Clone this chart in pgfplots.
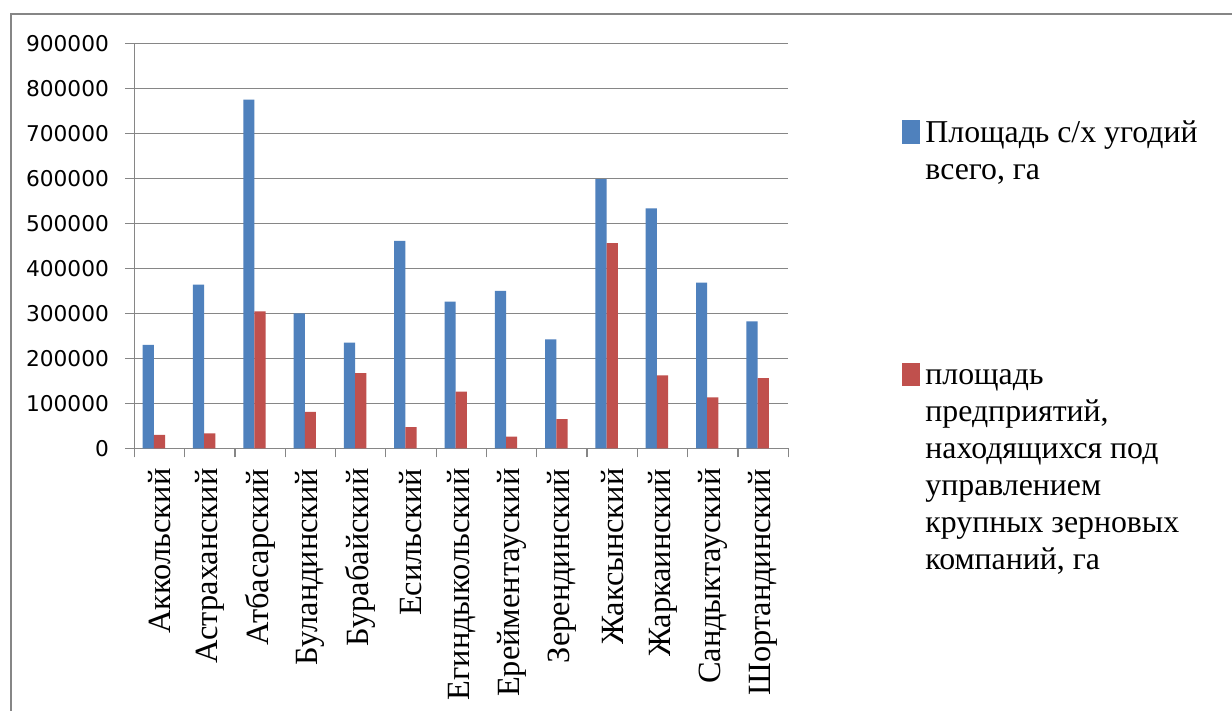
\documentclass[border=0pt]{standalone}
\usepackage{pgfplots}
\pgfplotsset{compat=1.18}
\usepackage{fontspec}
\setmainfont{Liberation Serif}
\newfontfamily\dejavu{DejaVu Sans}
\definecolor{xlblue}{RGB}{79,129,189}
\definecolor{xlred}{RGB}{192,80,77}
\definecolor{xlgrid}{RGB}{134,134,134}
\begin{document}
\begin{tikzpicture}
\path[use as bounding box] (0,0) rectangle (616pt,355.5pt);
\fill[white] (0,0) rectangle (616pt,355.5pt);
\draw[xlgrid, line width=1pt] (5.3pt,0) -- (5.3pt,348.5pt) -- (616pt,348.5pt);
\begin{axis}[
  at={(67.15pt,131.35pt)}, anchor=south west,
  scale only axis, width=327pt, height=202.5pt,
  ybar, bar width=5.6pt,
  xmin=-0.5, xmax=12.5, ymin=0, ymax=900000,
  xtick={-0.5,0.5,1.5,2.5,3.5,4.5,5.5,6.5,7.5,8.5,9.5,10.5,11.5,12.5},
  x tick label as interval,
  xticklabels={Аккольский,Астраханский,Атбасарский,Буландинский,Бурабайский,Есильский,Егиндыкольский,Ерейментауский,Зерендинский,Жаксынский,Жаркаинский,Сандыктауский,Шортандинский},
  ytick={0,100000,200000,300000,400000,500000,600000,700000,800000,900000},
  scaled y ticks=false,
  yticklabel style={/pgf/number format/fixed, /pgf/number format/1000 sep={}, /pgf/number format/assume math mode=true, font=\dejavu\fontsize{10.85}{13}\selectfont, inner sep=0pt, xshift=-8pt},
  xticklabel style={rotate=90, anchor=east, font=\fontsize{16.2}{19}\selectfont, inner sep=0pt, xshift=-5.5pt},
  axis x line*=bottom, axis y line*=left,
  axis line style={xlgrid, line width=0.6pt, -},
  tick align=outside, major tick length=4.5pt,
  tick style={xlgrid, line width=0.6pt},
  ymajorgrids, grid style={xlgrid, line width=0.6pt},
  legend image code/.code={\fill[#1, draw=none] (0pt,-0.85pt) rectangle (9pt,10.85pt);},
  legend style={at={(1.1739,0.821)}, anchor=north west, draw=none, fill=none, inner sep=0pt,
    cells={anchor=base west}, nodes={inner sep=0pt, text depth=0pt},
    row sep=107.35pt, column sep=2.5pt, font=\fontsize{15.9}{18.5}\selectfont},
]
\addplot[fill=xlblue, draw=none, bar shift=-5.6pt] coordinates {
(0,230000) (1,364000) (2,775000) (3,300000) (4,235000) (5,461000) (6,326000)
(7,350000) (8,242000) (9,598000) (10,533000) (11,368000) (12,282000)};
\addlegendentry{\begin{tabular}[t]{@{}l@{}}Площадь с/х угодий\\всего, га\end{tabular}}
\addplot[fill=xlred, draw=none, bar shift=0pt] coordinates {
(0,30000) (1,33000) (2,304000) (3,81000) (4,167000) (5,47000) (6,126000)
(7,26000) (8,65000) (9,456000) (10,162000) (11,113000) (12,156000)};
\addlegendentry{\begin{tabular}[t]{@{}l@{}}площадь\\предприятий,\\находящихся под\\управлением\\крупных зерновых\\компаний, га\end{tabular}}
\end{axis}
\end{tikzpicture}
\end{document}
